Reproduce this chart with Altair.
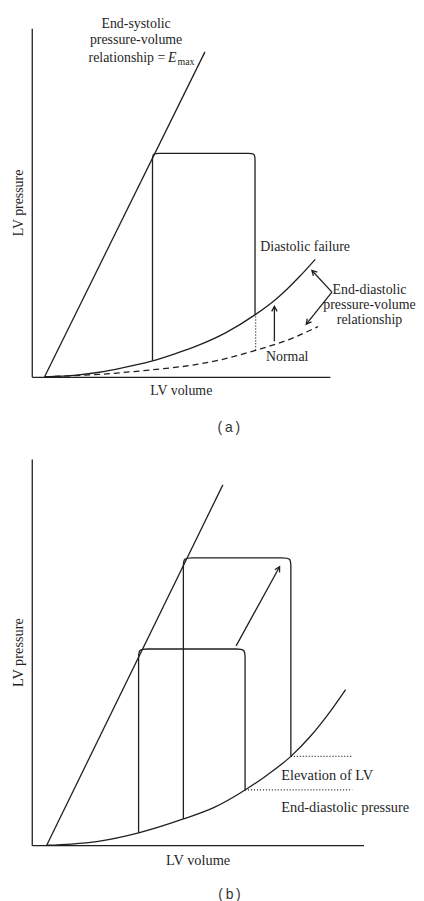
import altair as alt
import pandas as pd

SERIF = "Liberation Serif"
SANS = "Liberation Sans"
INK = "#1f1f1f"
LW = 1.3
ARROW = "M-0.55,1L0,0L0.55,1"

# ================= Panel (a): diastolic failure =================
a_espvr_v = [4.3, 58.1]
a_espvr_p = [0.0, 93.2]
a_fail_v = [4.3, 15.0, 22.6, 30.0, 40.2, 48.0, 55.8, 65.0, 75.1, 81.4, 85.7, 90.0, 95.1]
a_fail_p = [0.0, 0.5, 1.3, 2.5, 4.5, 6.6, 9.0, 12.6, 17.9, 21.9, 25.2, 28.9, 33.7]
a_norm_v = [4.3, 22.6, 40.2, 55.8, 65.0, 75.1, 85.7, 96.0]
a_norm_p = [0.0, 0.7, 2.0, 3.6, 5.2, 7.6, 10.5, 14.4]
a_loop_v = [40.5, 74.9]            # left / right volume of the PV loop
a_loop_p = [4.6, 64.1, 17.9]       # bottom-left, top, bottom-right pressure
a_dot_v = [75.1, 75.1]
a_dot_p = [7.6, 17.9]
a_up_v = [81.4, 81.4]              # arrow start, tip
a_up_p = [10.2, 20.2]
a_brk_v = [100.7, 94.0, 92.1]      # junction, upper tip, lower tip
a_brk_p = [24.3, 30.5, 15.1]
a_txt = ["End-systolic", "pressure-volume", "Diastolic failure", "Normal",
         "End-diastolic", "pressure-volume", "relationship"]
a_txt_v = [35.0, 35.0, 91.7, 85.7, 113.3, 113.3, 113.3]
a_txt_p = [101.2, 96.5, 37.2, 5.6, 24.8, 20.5, 16.3]
a_emax_txt = ["relationship =", "E", "max"]
a_emax_v = [44.8, 45.7, 48.9]
a_emax_p = [91.4, 91.4, 90.2]
a_letter = "(\u2009a\u2009)"
a_letter_v = [66.1]
a_letter_p = [-14.8]

# ================= Panel (b): elevated end-diastolic pressure =================
b_espvr_v = [4.5, 57.6]
b_espvr_p = [0.0, 93.3]
b_edpvr_v = [4.5, 12.0, 20.0, 32.2, 45.7, 55.0, 64.3, 71.0, 78.1, 84.0, 89.6, 94.6]
b_edpvr_p = [0.0, 0.3, 1.0, 3.2, 6.8, 9.8, 14.3, 18.2, 23.0, 28.2, 34.2, 40.3]
b_loop1_v = [32.2, 64.3]
b_loop1_p = [3.2, 50.8, 14.3]
b_loop2_v = [45.7, 78.1]
b_loop2_p = [6.8, 74.4, 23.0]
b_dot_v = [[78.1, 96.6], [64.3, 96.6]]
b_dot_p = [23.0, 14.3]
b_arr_v = [61.6, 74.7]             # arrow start, tip
b_arr_p = [51.6, 72.1]
b_txt = ["Elevation of LV", "End-diastolic pressure"]
b_txt_v = [75.2, 75.2]
b_txt_p = [17.9, 9.6]
b_letter = "(\u2009b\u2009)"
b_letter_v = [59.6]
b_letter_p = [-12.8]


def loop_rows(vols, pres, dx, dy):
    vl, vr = vols
    pbl, top, pbr = pres
    v = [vl, vl, vl, vl, vl + dx, vl + 2 * dx, vr - 2 * dx, vr - dx, vr, vr, vr, vr]
    p = [pbl, top - 2 * dy, top - dy, top, top, top, top, top, top, top - dy, top - 2 * dy, pbr]
    return pd.DataFrame({"v": v, "p": p, "i": list(range(len(v)))})


def df_line(v, p):
    return pd.DataFrame({"v": v, "p": p, "i": list(range(len(v)))})


def make_tools(fs, xaxis, yaxis):
    xs = alt.Scale(domain=[0, 100], nice=False, zero=False)
    ys = alt.Scale(domain=[0, 100], nice=False, zero=False)

    def enc(**kw):
        return dict(x=alt.X("v:Q", scale=xs, axis=xaxis),
                    y=alt.Y("p:Q", scale=ys, axis=yaxis), **kw)

    def line(df, **mk):
        return alt.Chart(df).mark_line(color=INK, strokeWidth=LW, **mk).encode(
            **enc(order=alt.Order("i:Q")))

    def rule(df, **mk):
        return alt.Chart(df).mark_rule(color=INK, strokeWidth=LW, **mk).encode(
            **enc(x2="v2:Q", y2="p2:Q"))

    def head(v, p, angle):
        return alt.Chart(pd.DataFrame({"v": [v], "p": [p]})).mark_point(
            shape=ARROW, filled=False, size=100, strokeWidth=LW, color=INK,
            opacity=1, angle=angle).encode(**enc())

    def text(labels, vs, ps, align="center", size=fs, font=SERIF, color=INK, **mk):
        df = pd.DataFrame({"v": vs, "p": ps, "t": labels})
        return alt.Chart(df).mark_text(align=align, baseline="middle", font=font,
                                       fontSize=size, color=color, **mk).encode(
            **enc(text="t:N"))

    return line, rule, head, text


# ---------- build panel (a) ----------
FA = 14
xa = alt.Axis(title="LV volume", titleFontSize=FA, titlePadding=7)
ya = alt.Axis(title="LV pressure", titleFontSize=FA, titlePadding=6)
line, rule, head, text = make_tools(FA, xa, ya)
pa_layers = [
    line(df_line(a_espvr_v, a_espvr_p)),
    line(df_line(a_fail_v, a_fail_p), interpolate="monotone"),
    line(df_line(a_norm_v, a_norm_p), interpolate="monotone", strokeDash=[6, 4]),
    line(loop_rows(a_loop_v, a_loop_p, 2.3, 2.0), interpolate="basis"),
    rule(pd.DataFrame({"v": [a_dot_v[0]], "p": [a_dot_p[0]], "v2": [a_dot_v[1]], "p2": [a_dot_p[1]]}),
         strokeDash=[1, 2]),
    rule(pd.DataFrame({"v": [a_up_v[0]], "p": [a_up_p[0]], "v2": [a_up_v[1]], "p2": [a_up_p[1]]})),
    head(a_up_v[1], a_up_p[1], 0),
    rule(pd.DataFrame({"v": [a_brk_v[0], a_brk_v[0]], "p": [a_brk_p[0], a_brk_p[0]],
                       "v2": [a_brk_v[1], a_brk_v[2]], "p2": [a_brk_p[1], a_brk_p[2]]})),
    head(a_brk_v[1], a_brk_p[1], 317),
    head(a_brk_v[2], a_brk_p[2], 218),
    text(a_txt, a_txt_v, a_txt_p),
    text([a_emax_txt[0]], [a_emax_v[0]], [a_emax_p[0]], align="right"),
    text([a_emax_txt[1]], [a_emax_v[1]], [a_emax_p[1]], align="left", fontStyle="italic"),
    text([a_emax_txt[2]], [a_emax_v[2]], [a_emax_p[2]], align="left", size=10),
    text([a_letter], a_letter_v, a_letter_p, size=14, font=SANS, color="#333333"),
]
panel_a = alt.layer(*pa_layers).properties(width=301, height=352)

# ---------- build panel (b) ----------
FB = 14.5
xb = alt.Axis(title="LV volume", titleFontSize=FB, titlePadding=8)
yb = alt.Axis(title="LV pressure", titleFontSize=FB, titlePadding=6)
line, rule, head, text = make_tools(FB, xb, yb)
pb_layers = [
    line(df_line(b_espvr_v, b_espvr_p)),
    line(df_line(b_edpvr_v, b_edpvr_p), interpolate="monotone"),
    line(loop_rows(b_loop1_v, b_loop1_p, 2.7, 2.3), interpolate="basis"),
    line(loop_rows(b_loop2_v, b_loop2_p, 2.7, 2.3), interpolate="basis"),
    rule(pd.DataFrame({"v": [b_dot_v[0][0], b_dot_v[1][0]], "p": b_dot_p,
                       "v2": [b_dot_v[0][1], b_dot_v[1][1]], "p2": b_dot_p}),
         strokeDash=[1, 2]),
    rule(pd.DataFrame({"v": [b_arr_v[0]], "p": [b_arr_p[0]], "v2": [b_arr_v[1]], "p2": [b_arr_p[1]]})),
    head(b_arr_v[1], b_arr_p[1], 29),
    text(b_txt, b_txt_v, b_txt_p, align="left"),
    text([b_letter], b_letter_v, b_letter_p, size=14, font=SANS, color="#333333"),
]
panel_b = alt.layer(*pb_layers).properties(width=335, height=390)

chart = alt.vconcat(panel_a, panel_b, spacing=23).properties(
    padding={"left": 3, "top": 4, "right": 0, "bottom": 0}
).configure_view(stroke=None).configure_axis(
    domainColor=INK, domainWidth=LW, ticks=False, labels=False, grid=False,
    titleFont=SERIF, titleFontWeight="normal", titleColor=INK
)

chart.save("out.html", embed_options={"renderer": "svg", "actions": False})
